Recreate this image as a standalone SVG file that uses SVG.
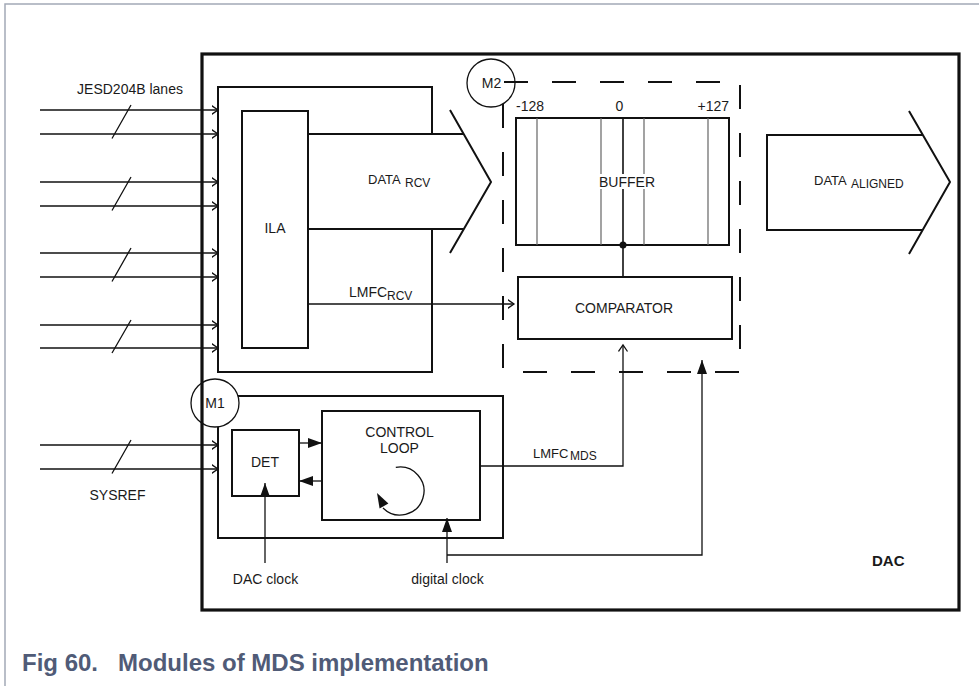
<svg xmlns="http://www.w3.org/2000/svg" width="979" height="686" viewBox="0 0 979 686">
<defs>
<style>
text{font-family:"Liberation Sans",Arial,sans-serif;fill:#1a1a1a;font-size:14px}
.b2{fill:none;stroke:#111;stroke-width:2}
.b3{fill:none;stroke:#111;stroke-width:3.2}
.ln{fill:none;stroke:#111;stroke-width:1.3}
.dash{fill:none;stroke:#111;stroke-width:2;stroke-dasharray:24 24}
.gl{stroke:#666;stroke-width:1.2}
.mid{text-anchor:middle}
.sub{font-size:12px}
.cap{font-weight:bold;font-size:24px;fill:#505b77}
.open{marker-end:url(#open)}
.fill{marker-end:url(#tri)}
</style>
<marker id="open" markerUnits="userSpaceOnUse" markerWidth="10" markerHeight="12" refX="6.5" refY="5" orient="auto">
<path d="M0,0.5 L6.5,5 L0,9.5" fill="none" stroke="#111" stroke-width="1.3"/>
</marker>
<marker id="tri" markerUnits="userSpaceOnUse" markerWidth="15" markerHeight="12" refX="14" refY="5" orient="auto">
<path d="M0,0 L14,5 L0,10 z" fill="#111"/>
</marker>
</defs>
<rect width="979" height="686" fill="#fff"/>
<g id="frame"><path d="M5,686 V4 H979" fill="none" stroke="#a3a9b6" stroke-width="1.5"/></g>

<g id="dac"><rect x="202" y="54" width="757" height="556" class="b3"/><text x="872" y="566" style="font-weight:bold;font-size:15px">DAC</text></g>

<g id="ila-outer"><path d="M432,134 V87 H218 V372 H432 V229" class="b2"/></g>
<g id="ila"><rect x="242" y="111" width="66" height="237" class="b2"/><text x="275" y="233" class="mid">ILA</text></g>

<g id="data-rcv"><path d="M308,134 H464 M308,229 H464" class="b2"/><path d="M450,110 L491,182 L450,253" class="b2"/>
<text x="368" y="184" style="font-size:13px">DATA</text><text x="405" y="187" class="sub">RCV</text></g>

<g id="m2"><circle cx="491" cy="83" r="24" class="ln"/><text x="491.5" y="88" class="mid">M2</text>
<path d="M504,82 H740" class="dash"/><path d="M740,85 V372" class="dash"/><path d="M739,372 H503" class="dash"/><path d="M503,104 V372" class="dash"/></g>

<g id="buffer"><rect x="516" y="118" width="213" height="127" class="b2"/>
<path d="M537,118 V245 M601,118 V245 M644,118 V245 M708,118 V245" class="gl"/>
<path d="M623,118 V277" fill="none" stroke="#111" stroke-width="1.6"/><circle cx="623" cy="245" r="3.5" fill="#111"/>
<rect x="596" y="174" width="62" height="15" fill="#fff"/>
<text x="516" y="111">-128</text><text x="619.5" y="111" class="mid">0</text><text x="729" y="111" style="text-anchor:end">+127</text>
<text x="627" y="187" class="mid">BUFFER</text></g>

<g id="comparator"><rect x="518" y="277" width="214" height="62" class="b2"/><text x="624" y="313" class="mid">COMPARATOR</text></g>

<g id="data-aligned"><path d="M923,135 H767 V230 H923" class="b2"/><path d="M909,111 L950,182 L909,254" class="b2"/>
<text x="814" y="185" style="font-size:13px">DATA</text><text x="851" y="188" class="sub">ALIGNED</text></g>

<g id="m1"><circle cx="215" cy="403" r="24" class="ln"/><text x="215" y="408" class="mid">M1</text>
<path d="M238,396 H503 V538 H218 V427" class="b2"/></g>

<g id="det"><rect x="232" y="430" width="67" height="66" class="b2"/><text x="265" y="467" class="mid">DET</text></g>

<g id="control-loop"><rect x="322" y="411" width="158" height="109" class="b2"/>
<text x="399.5" y="437" class="mid">CONTROL</text><text x="399.5" y="453" class="mid">LOOP</text>
<path d="M395.8,467.4 A24,24 0 1 1 383,508" class="ln"/><path d="M377,493 L388.4,503.6 L379.6,508.4 z" fill="#111"/></g>

<g id="connectors">
<path d="M40,110 H218" class="ln open"/><path d="M40,134 H218" class="ln open"/>
<path d="M40,182 H218" class="ln open"/><path d="M40,206 H218" class="ln open"/>
<path d="M40,253 H218" class="ln open"/><path d="M40,277 H218" class="ln open"/>
<path d="M40,325 H218" class="ln open"/><path d="M40,348 H218" class="ln open"/>
<path d="M40,445 H218" class="ln open"/><path d="M40,469 H218" class="ln open"/>
<path d="M112,138.5 L131,105 M112,210.5 L131,177 M112,281.5 L131,248 M112,353 L131,320 M112,473.5 L131,440" class="ln"/>
<path d="M308,304 H514" class="ln open"/>
<path d="M480,466 H623 V345" class="ln open"/>
<path d="M299,443 H322" class="ln fill"/>
<path d="M322,481 H299" class="ln fill"/>
<path d="M265,563 V483" class="ln fill"/>
<path d="M447,563 V518" class="ln fill"/>
<path d="M447,555 H702 V360" class="ln fill"/>
</g>

<g id="labels">
<text x="130" y="94" class="mid">JESD204B lanes</text>
<text x="117.5" y="500" class="mid">SYSREF</text>
<text x="349" y="297">LMFC</text><text x="387" y="300" class="sub">RCV</text>
<text x="533" y="458" style="font-size:13px">LMFC</text><text x="570" y="460" class="sub">MDS</text>
<text x="265.5" y="584" class="mid">DAC clock</text>
<text x="447.5" y="584" class="mid">digital clock</text>
</g>
<g id="caption"><text x="22" y="671" class="cap">Fig 60.</text><text x="118" y="671" class="cap">Modules of MDS implementation</text></g>
</svg>
